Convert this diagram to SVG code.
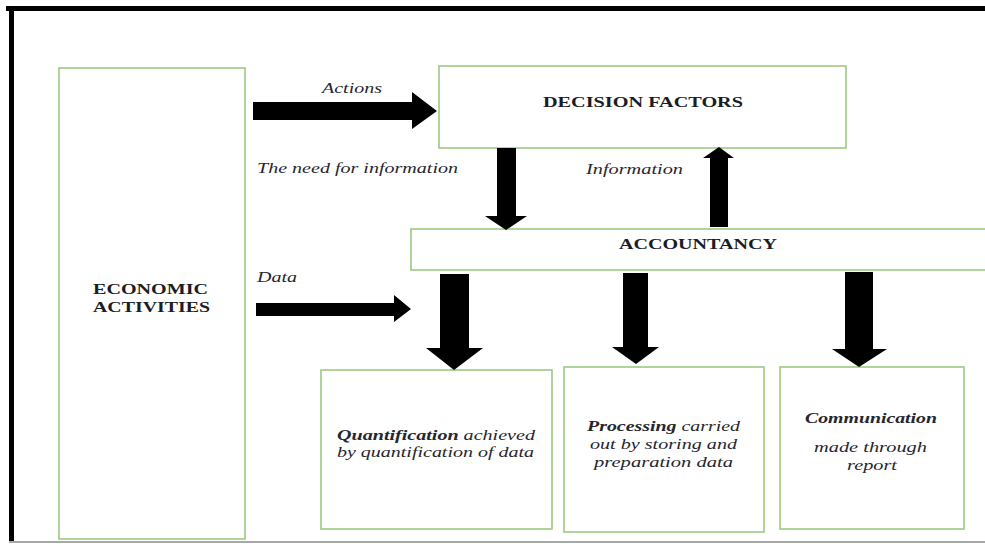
<svg xmlns="http://www.w3.org/2000/svg" width="985" height="544" viewBox="0 0 985 544">
<style>
.box{fill:#fff;stroke:#9cc97f;stroke-width:1.6}
.cap{font-weight:bold;font-size:15px;fill:#1c1c24}
.it{font-style:italic;font-size:14px;fill:#26262e}
.bi{font-weight:bold}
.arr{fill:#000}
</style>
<rect x="0" y="0" width="985" height="544" fill="#fff"/>
<g id="frame">
<rect x="6" y="6" width="979" height="5" fill="#000"/>
<rect x="9" y="6" width="5" height="536" fill="#000"/>
<rect x="9" y="541" width="976" height="2" fill="#a8a8a8"/>
</g>
<g font-family="Liberation Serif, Times New Roman, DejaVu Serif, serif">
<g id="economic-activities">
<rect class="box" x="59" y="68" width="186" height="471"/>
<text class="cap" x="93" y="294" textLength="115" lengthAdjust="spacingAndGlyphs">ECONOMIC</text>
<text class="cap" x="93" y="312" textLength="117" lengthAdjust="spacingAndGlyphs">ACTIVITIES</text>
</g>
<g id="decision-factors">
<rect class="box" x="439" y="66" width="407" height="82"/>
<text class="cap" x="543" y="107" textLength="200" lengthAdjust="spacingAndGlyphs">DECISION FACTORS</text>
</g>
<g id="accountancy">
<rect class="box" x="411" y="229" width="590" height="41"/>
<text class="cap" x="619" y="249" textLength="158" lengthAdjust="spacingAndGlyphs">ACCOUNTANCY</text>
</g>
<g id="quantification">
<rect class="box" x="321" y="370" width="231" height="159"/>
<text class="it" x="337" y="440" textLength="198" lengthAdjust="spacingAndGlyphs"><tspan class="bi">Quantification</tspan> achieved</text>
<text class="it" x="337" y="457" textLength="197" lengthAdjust="spacingAndGlyphs">by quantification of data</text>
</g>
<g id="processing">
<rect class="box" x="564" y="367" width="200" height="165"/>
<text class="it" x="587" y="431" textLength="153" lengthAdjust="spacingAndGlyphs"><tspan class="bi">Processing</tspan> carried</text>
<text class="it" x="590" y="449" textLength="147" lengthAdjust="spacingAndGlyphs">out by storing and</text>
<text class="it" x="594" y="467" textLength="139" lengthAdjust="spacingAndGlyphs">preparation data</text>
</g>
<g id="communication">
<rect class="box" x="780" y="367" width="184" height="162"/>
<text class="it bi" x="805" y="423" textLength="132" lengthAdjust="spacingAndGlyphs">Communication</text>
<text class="it" x="814" y="452" textLength="113" lengthAdjust="spacingAndGlyphs">made through</text>
<text class="it" x="847" y="470" textLength="50" lengthAdjust="spacingAndGlyphs">report</text>
</g>
<g id="connectors">
<polygon class="arr" points="253,102 412,102 412,92 437,111 412,129 412,120 253,120"/>
<text class="it" x="322" y="93" textLength="60" lengthAdjust="spacingAndGlyphs">Actions</text>
<polygon class="arr" points="497,148 516,148 516,216 527,216 506,230 485,216 497,216"/>
<text class="it" x="257" y="173" textLength="201" lengthAdjust="spacingAndGlyphs">The need for information</text>
<polygon class="arr" points="710,227 728,227 728,158 734,158 719,147 703,158 710,158"/>
<text class="it" x="586" y="174" textLength="97" lengthAdjust="spacingAndGlyphs">Information</text>
<polygon class="arr" points="256,303 394,303 394,295 411,309 394,322 394,316 256,316"/>
<text class="it" x="257" y="282" textLength="40" lengthAdjust="spacingAndGlyphs">Data</text>
<polygon class="arr" points="440,274 469,274 469,348 483,348 454,370 426,348 440,348"/>
<polygon class="arr" points="623,273 648,273 648,347 659,347 636,364 612,347 623,347"/>
<polygon class="arr" points="845,272 873,272 873,349 887,349 859,367 832,349 845,349"/>
</g>
</g>
</svg>
